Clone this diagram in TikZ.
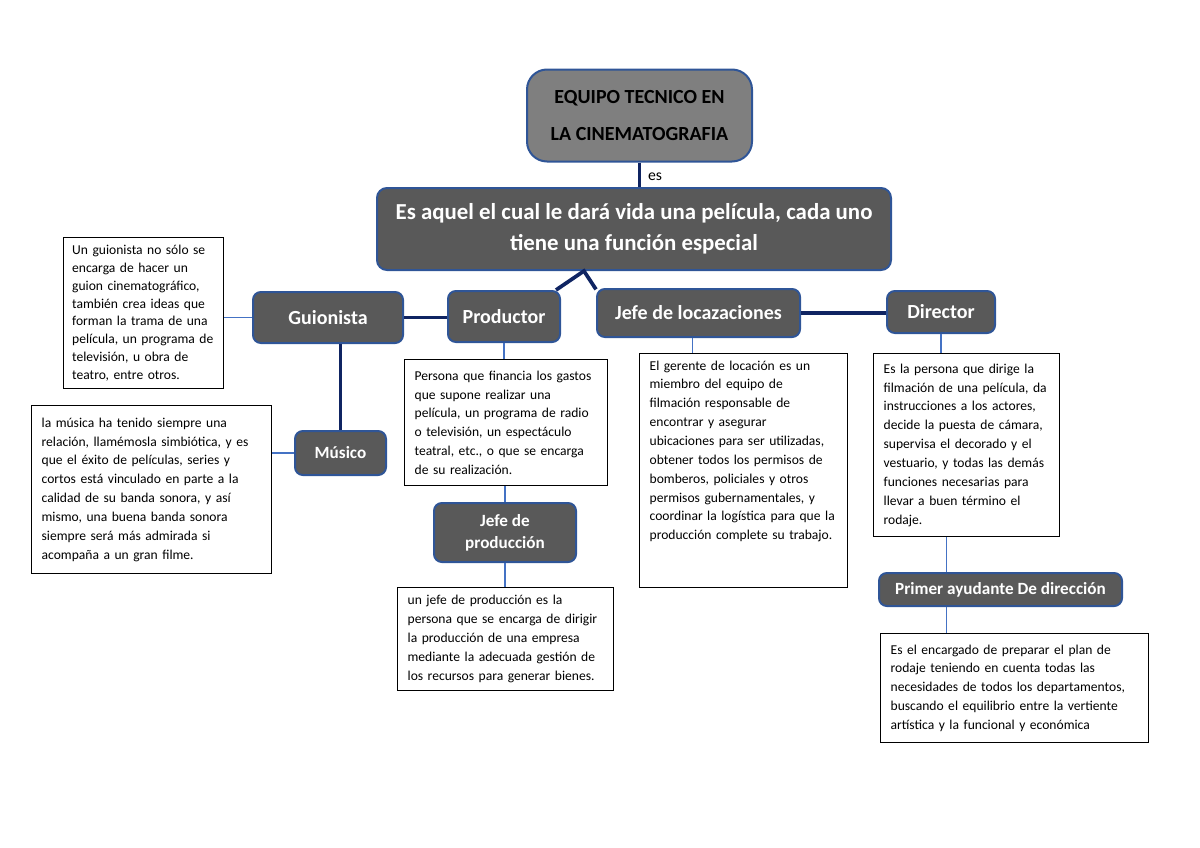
\documentclass[tikz,border=0pt]{standalone}
\usepackage{fontspec}
\setmainfont{Carlito}
\usepackage{tikz}
\usetikzlibrary{positioning}
\definecolor{grismed}{HTML}{7F7F7F}
\definecolor{grisosc}{HTML}{595959}
\definecolor{borde}{HTML}{2F5597}
\definecolor{azulosc}{HTML}{0F2462}
\definecolor{azul}{HTML}{4472C4}

\begin{document}
\begin{tikzpicture}[x=0.7pt,y=-0.7pt,
etiqueta/.style={draw=borde,line width=1.4pt,fill=grisosc,rounded corners=5.5pt,text=white,inner sep=0pt,align=center,font=\bfseries\fontsize{14}{16}\selectfont},
caja/.style={draw=black,line width=0.9pt,fill=white,anchor=north west,inner xsep=7pt,inner ysep=2pt,align=left,font=\fontsize{9.5}{13.2}\selectfont},
grueso/.style={draw=azulosc,line width=2.6pt},
fino/.style={draw=azul,line width=0.8pt}]
%page
\useasboundingbox (0,0) rectangle (1200,848);
%title and main idea
\node[etiqueta,fill=grismed,text=black,rounded corners=14pt,minimum width=157.5pt,minimum height=64.4pt,font=\bfseries\fontsize{14}{26}\selectfont] (titulo) at (639.5,115.5) {EQUIPO TECNICO EN\\LA CINEMATOGRAFIA};
\node[etiqueta,rounded corners=7pt,minimum width=359.8pt,minimum height=57.4pt,font=\bfseries\fontsize{16}{21.7}\selectfont] (aquel) at (634,229) {Es aquel el cual le dará vida una película, cada uno\\tiene una función especial};
\draw[grueso] (titulo.south) -- (titulo.south |- aquel.north); \node[font=\fontsize{11}{13}\selectfont] (es) at (655,177) {es};
%roles
\node[etiqueta,minimum width=105pt,minimum height=35.7pt] (guionista) at (328,317.5) {Guionista};
\node[etiqueta,minimum width=78.4pt,minimum height=35.7pt] (productor) at (504,316.5) {Productor};
\node[etiqueta,minimum width=142.1pt,minimum height=33.6pt] (jefeloc) at (698.5,313) {Jefe de locazaciones};
\node[etiqueta,minimum width=75.6pt,minimum height=29.4pt] (director) at (941,312) {Director};
\node[etiqueta,minimum width=63.7pt,minimum height=30.8pt,font=\bfseries\fontsize{12}{14}\selectfont] (musico) at (340.5,453) {Músico};
\node[etiqueta,minimum width=99.4pt,minimum height=41.3pt,font=\bfseries\fontsize{12}{15.4}\selectfont] (jefeprod) at (505,532.5) {Jefe de\\producción};
\node[etiqueta,minimum width=170.1pt,minimum height=23.1pt,font=\bfseries\fontsize{12}{14}\selectfont] (primer) at (1000.5,589.5) {Primer ayudante De dirección};
%thick links
\draw[grueso] (productor.27) -- (aquel.-140) -- (jefeloc.167);
\draw[grueso] (guionista.east) -- (guionista.east -| productor.west); \draw[grueso] (jefeloc.east) -- (jefeloc.east -| director.west);
\draw[grueso] (musico.north) -- (musico.north |- guionista.south);
%text boxes
\node[caja,text width=100pt,inner xsep=6pt,minimum height=105.7pt,font=\fontsize{9.5}{12.5}\selectfont] (guiontxt) at (63,237) {Un guionista no sólo se\\encarga de hacer un\\guion cinematográfico,\\también crea ideas que\\forman la trama de una\\película, un programa de\\televisión, u obra de\\teatro, entre otros.};
\node[caja,text width=154pt,minimum height=117.6pt] (musictxt) at (31,405) {la música ha tenido siempre una\\relación, llamémosla simbiótica, y es\\que el éxito de películas, series y\\cortos está vinculado en parte a la\\calidad de su banda sonora, y así\\mismo, una buena banda sonora\\siempre será más admirada si\\acompaña a un gran filme.};
\node[caja,text width=128.1pt,minimum height=88.2pt] (prodtxt) at (404,359) {Persona que financia los gastos\\que supone realizar una\\película, un programa de radio\\o televisión, un espectáculo\\teatral, etc., o que se encarga\\de su realización.};
\node[caja,text width=137.2pt,minimum height=72.1pt] (jefeprodtxt) at (397,587) {un jefe de producción es la\\persona que se encarga de dirigir\\la producción de una empresa\\mediante la adecuada gestión de\\los recursos para generar bienes.};
\node[caja,text width=131.6pt,minimum height=163.8pt] (loctxt) at (639,353) {El gerente de locación es un\\miembro del equipo de\\filmación responsable de\\encontrar y asegurar\\ubicaciones para ser utilizadas,\\obtener todos los permisos de\\bomberos, policiales y otros\\permisos gubernamentales, y\\coordinar la logística para que la\\producción complete su trabajo.\\\rule{0pt}{26pt}};
\node[caja,text width=116.2pt,minimum height=128.1pt] (dirtxt) at (873,353) {Es la persona que dirige la\\filmación de una película, da\\instrucciones a los actores,\\decide la puesta de cámara,\\supervisa el decorado y el\\vestuario, y todas las demás\\funciones necesarias para\\llevar a buen término el\\rodaje.};
\node[caja,text width=173.6pt,minimum height=76.3pt] (primtxt) at (880,633) {Es el encargado de preparar el plan de\\rodaje teniendo en cuenta todas las\\necesidades de todos los departamentos,\\buscando el equilibrio entre la vertiente\\artística y la funcional y económica};
%thin links
\draw[fino] (guionista.west) -- (guionista.west -| guiontxt.east);
\draw[fino] (musico.west) -- (musico.west -| musictxt.east);
\draw[fino] (productor.south) -- (productor.south |- prodtxt.north); \draw[fino] (jefeprod.north) -- (jefeprod.north |- prodtxt.south);
\draw[fino] (jefeprod.south) -- (jefeprod.south |- jefeprodtxt.north);
\draw[fino] (jefeloc.-103) -- (jefeloc.-103 |- loctxt.north);
\draw[fino] (director.south) -- (director.south |- dirtxt.north);
\draw[fino] (primer.162) -- (primer.162 |- dirtxt.south); \draw[fino] (primer.198) -- (primer.198 |- primtxt.north);
\end{tikzpicture}
\end{document}
